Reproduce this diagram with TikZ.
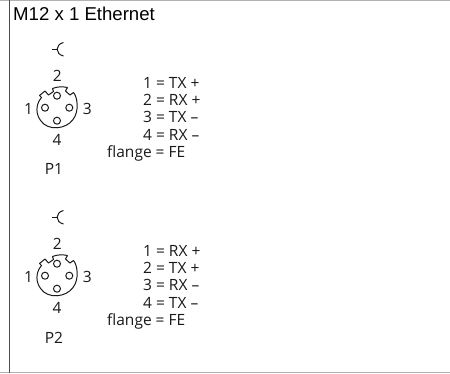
\documentclass[tikz,border=0pt]{standalone}
\usepackage{fontspec}
\setmainfont{Open Sans}
\newfontfamily\titlefont{Liberation Sans}
\tikzset{
  x=1pt,y=-1pt,
  rule/.style={draw=black!70,line width=1pt},
  hair/.style={draw=black!30,line width=1.2pt},
  lab/.style={inner sep=0pt,font=\fontsize{15.5}{17}\selectfont,text=black!90},
  pinline/.style={inner sep=0pt,anchor=base west,font=\fontsize{15.5}{17}\selectfont,text=black!90},
  conn/.style={draw=black!90,line width=1pt,line join=round},
  hole/.style={circle,draw=black!90,line width=1pt,minimum size=7pt,inner sep=0pt},
}
\newcommand{\connector}[2]{%
\begin{scope}[shift={(0,#1)}]
  \coordinate (#2d) at (52.3,49);
  \coordinate (#2e) at (57,49);
  \draw[conn] (#2d) -- (#2e);
  \draw[conn] (63.5,42.5) .. controls (55,44.5) and (55,54) .. (63.5,56);
  \node[hole] (#2t) at (57,95.7) {};
  \node[hole] (#2l) at (45,107.7) {};
  \node[hole] (#2r) at (69.3,107.7) {};
  \node[hole] (#2b) at (57,120.7) {};
  \draw[conn] (67.5,87.5) -- (65.5,91) -- (70,95) -- (73.5,92.5)
    .. controls (78,98) and (79,112) .. (73,119.5)
    .. controls (66,129.5) and (48,131) .. (41,121)
    .. controls (36,115) and (35,105) .. (41.5,97.5)
    -- (39.5,95.5) -- (45,91) -- (48.5,95) -- (53.5,91.5) -- (52.5,88.5)
    .. controls (57,86.5) and (63,86.5) .. (67.5,87.5);
  \node[lab] (#2n2) at (57.3,75.5) {2};
  \node[lab] (#2n1) at (28.5,108.5) {1};
  \node[lab] (#2n3) at (87.3,108.5) {3};
  \node[lab] (#2n4) at (57,140) {4};
  \end{scope}}
\begin{document}
\begin{tikzpicture}
\useasboundingbox (0,0) rectangle (450,373);
\draw[hair] (0,0.5) -- (450,0.5);
\draw[hair] (0,372.4) -- (450,372.4);
\draw[rule] (9,0) -- (9,373);
\node[inner sep=0pt,anchor=base west,font=\titlefont\fontsize{18.6}{22}\selectfont] (title) at (13,20) {M12 x 1 Ethernet};
\connector{0}{a}
\connector{168}{b}
\node[lab] (p1) at (54,169.3) {P1};
\node[lab] (p2) at (54,337.5) {P2};
\node[pinline] (a1) at (143,88) {1 = TX +};
\node[pinline] (a2) at (143,105.5) {2 = RX +};
\node[pinline] (a3) at (143,122.5) {3 = TX –};
\node[pinline] (a4) at (143,140) {4 = RX –};
\node[pinline] (a5) at (107,157) {flange = FE};
\node[pinline] (b1) at (143,256) {1 = RX +};
\node[pinline] (b2) at (143,273.5) {2 = TX +};
\node[pinline] (b3) at (143,290.5) {3 = RX –};
\node[pinline] (b4) at (143,308) {4 = TX –};
\node[pinline] (b5) at (107,325) {flange = FE};
\end{tikzpicture}
\end{document}
